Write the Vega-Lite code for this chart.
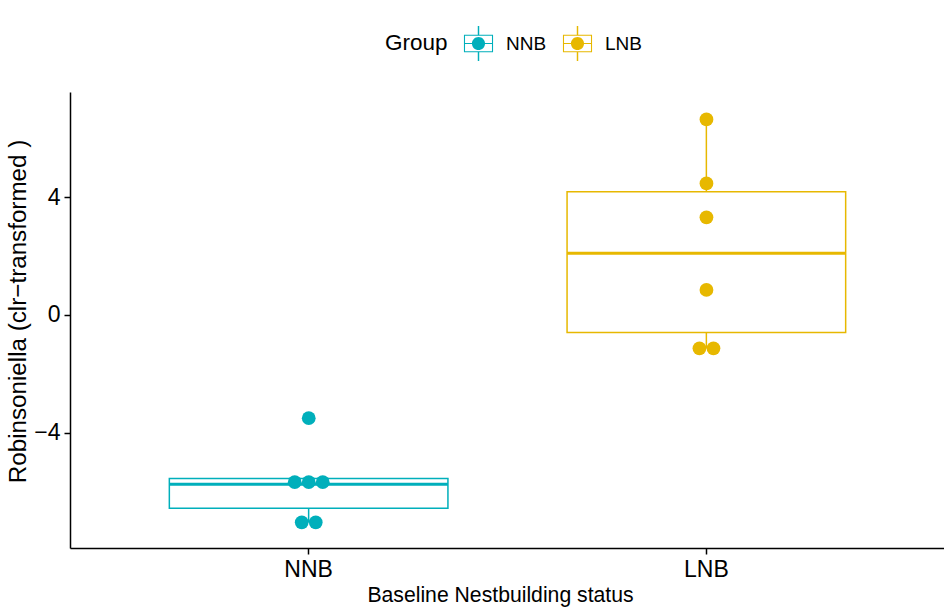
{
  "$schema": "https://vega.github.io/schema/vega-lite/v6.json",
  "autosize": "none",
  "width": 875,
  "height": 456,
  "padding": {"left": 70, "top": 92, "right": 0, "bottom": 59},
  "background": "white",
  "config": {
    "font": "Liberation Sans",
    "view": {"stroke": null},
    "axis": {
      "grid": false,
      "domainColor": "black",
      "domainWidth": 1.5,
      "tickColor": "black",
      "tickWidth": 1.5,
      "tickSize": 6,
      "labelColor": "black",
      "labelFont": "Liberation Sans",
      "labelFontSize": 23,
      "titleColor": "black",
      "titleFont": "Liberation Sans",
      "titleFontSize": 21.2,
      "titleFontWeight": "normal",
      "labelPadding": 4
    }
  },
  "datasets": {
    "pts": [
      {"group": "NNB", "value": -3.5},
      {"group": "NNB", "value": -5.67},
      {"group": "NNB", "value": -5.67},
      {"group": "NNB", "value": -5.67},
      {"group": "NNB", "value": -7.03},
      {"group": "NNB", "value": -7.03},
      {"group": "LNB", "value": 6.63},
      {"group": "LNB", "value": 4.46},
      {"group": "LNB", "value": 3.31},
      {"group": "LNB", "value": 0.85},
      {"group": "LNB", "value": -1.13},
      {"group": "LNB", "value": -1.13}
    ],
    "boxes": [
      {"group": "NNB", "lower": -7.03, "q1": -6.55, "median": -5.74, "q3": -5.54, "upper": -5.54},
      {"group": "LNB", "lower": -1.13, "q1": -0.59, "median": 2.09, "q3": 4.18, "upper": 6.63}
    ]
  },
  "encoding": {
    "x": {
      "field": "group",
      "type": "nominal",
      "sort": ["NNB", "LNB"],
      "scale": {"type": "band", "paddingInner": 0.3, "paddingOuter": 0.25},
      "axis": {"title": "Baseline Nestbuilding status", "labelAngle": 0, "titleX": 430, "titleY": 53, "titleAlign": "center", "titleBaseline": "alphabetic", "titleAnchor": null}
    },
    "color": {
      "field": "group",
      "type": "nominal",
      "scale": {"domain": ["NNB", "LNB"], "range": ["#00AFBB", "#E7B800"]},
      "legend": {
        "orient": "none",
        "legendX": 315,
        "legendY": -67,
        "direction": "horizontal",
        "title": "Group",
        "titleOrient": "left",
        "titleFont": "Liberation Sans",
        "titleFontSize": 22.5,
        "titleFontWeight": "normal",
        "titleColor": "black",
        "titlePadding": 12,
        "labelFont": "Liberation Sans",
        "labelFontSize": 19,
        "labelColor": "black",
        "labelOffset": 9,
        "columnPadding": 12,
        "symbolSize": 1325,
        "symbolStrokeWidth": 0,
        "symbolOpacity": 1,
        "symbolType": "M-0.8,-0.48L0.8,-0.48L0.8,0.48L-0.8,0.48ZM-0.74,-0.42L-0.74,0.42L0.74,0.42L0.74,-0.42ZM-0.36,0A0.36,0.36 0 1,1 0.36,0A0.36,0.36 0 1,1 -0.36,0ZM-0.04,-0.96L0.04,-0.96L0.04,-0.48L-0.04,-0.48ZM-0.04,0.48L0.04,0.48L0.04,0.96L-0.04,0.96ZM-0.74,-0.03L0.74,-0.03L0.74,0.03L-0.74,0.03Z"
      }
    }
  },
  "layer": [
    {
      "data": {"name": "boxes"},
      "mark": {"type": "rule", "strokeWidth": 1.5},
      "encoding": {
        "y": {"field": "lower", "type": "quantitative",
          "scale": {"domain": [-7.9, 7.56], "nice": false, "zero": false},
          "axis": {"values": [-4, 0, 4], "title": "Robinsoniella (clr\u2212transformed )", "titleFontSize": 24.2, "titleX": -52, "titleY": 219, "titleAngle": -90, "titleAlign": "center", "titleBaseline": "middle"}},
        "y2": {"field": "q1"}
      }
    },
    {
      "data": {"name": "boxes"},
      "mark": {"type": "rule", "strokeWidth": 1.5},
      "encoding": {
        "y": {"field": "q3", "type": "quantitative"},
        "y2": {"field": "upper"}
      }
    },
    {
      "data": {"name": "boxes"},
      "mark": {"type": "bar", "filled": false, "fill": "white", "strokeWidth": 1.5, "width": 278.6},
      "encoding": {
        "y": {"field": "q1", "type": "quantitative"},
        "y2": {"field": "q3"}
      }
    },
    {
      "data": {"name": "boxes"},
      "mark": {"type": "bar", "filled": false, "fill": null, "strokeWidth": 3, "width": 278.6},
      "encoding": {
        "y": {"field": "median", "type": "quantitative"},
        "y2": {"field": "median"}
      }
    },
    {
      "data": {"name": "pts"},
      "transform": [
        {"window": [{"op": "row_number", "as": "rank"}], "groupby": ["group", "value"]},
        {"joinaggregate": [{"op": "count", "as": "n"}], "groupby": ["group", "value"]},
        {"calculate": "datum.rank - (datum.n + 1) / 2", "as": "off"}
      ],
      "mark": {"type": "point", "filled": true, "opacity": 1, "size": 190},
      "encoding": {
        "y": {"field": "value", "type": "quantitative"},
        "xOffset": {"field": "off", "type": "quantitative", "scale": {"domain": [-1, 1], "range": [125.3, 153.3]}}
      }
    }
  ]
}
